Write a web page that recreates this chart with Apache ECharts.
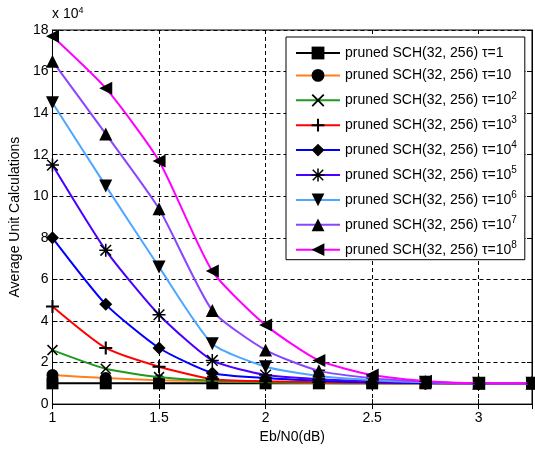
<!DOCTYPE html>
<html><head><meta charset="utf-8">
<script src="https://cdn.jsdelivr.net/npm/echarts@6/dist/echarts.min.js"></script>
<style>html,body{margin:0;padding:0;background:#fff}#c{width:535px;height:449px}</style>
</head><body><div id="c"></div>
<script>
// Eb/N0 (dB)
const ebn0 = [1, 1.25, 1.5, 1.75, 2, 2.25, 2.5, 2.75, 3, 3.25];
// Average unit calculations, in units of 10^4
const tau1   = [1.0, 1.0, 1.0, 1.0, 1.0, 1.0, 1.0, 1.0, 1.0, 1.0];
const tau1e1 = [1.4, 1.25, 1.15, 1.1, 1.05, 1.02, 1.0, 1.0, 1.0, 1.0];
const tau1e2 = [2.6, 1.7, 1.3, 1.12, 1.05, 1.02, 1.0, 1.0, 1.0, 1.0];
const tau1e3 = [4.7, 2.7, 1.8, 1.2, 1.1, 1.05, 1.02, 1.0, 1.0, 1.0];
const tau1e4 = [8.0, 4.8, 2.7, 1.5, 1.25, 1.12, 1.05, 1.02, 1.0, 1.0];
const tau1e5 = [11.5, 7.4, 4.3, 2.1, 1.4, 1.2, 1.1, 1.05, 1.0, 1.0];
const tau1e6 = [14.5, 10.5, 6.6, 2.9, 1.8, 1.35, 1.15, 1.05, 1.0, 1.0];
const tau1e7 = [16.5, 13.0, 9.4, 4.5, 2.6, 1.6, 1.25, 1.08, 1.0, 1.0];
const tau1e8 = [17.7, 15.2, 11.7, 6.4, 3.8, 2.1, 1.4, 1.1, 1.0, 1.0];
const seriesNames = [
  'pruned SCH(32, 256) τ=1',
  'pruned SCH(32, 256) τ=10',
  'pruned SCH(32, 256) τ=10^2',
  'pruned SCH(32, 256) τ=10^3',
  'pruned SCH(32, 256) τ=10^4',
  'pruned SCH(32, 256) τ=10^5',
  'pruned SCH(32, 256) τ=10^6',
  'pruned SCH(32, 256) τ=10^7',
  'pruned SCH(32, 256) τ=10^8'
];
const seriesData = [tau1, tau1e1, tau1e2, tau1e3, tau1e4, tau1e5, tau1e6, tau1e7, tau1e8];
const yTicks = [0, 2, 4, 6, 8, 10, 12, 14, 16, 18];
const xTicks = [1, 1.5, 2, 2.5, 3];

const colors = ['#000000', '#ff7f1e', '#1f9a1f', '#ff0000', '#0000ff', '#4b00ff', '#4da6ff', '#8a45ff', '#ff00ff'];
const P_X = 'path://M1,0L5,4L9,0L10,1L6,5L10,9L9,10L5,6L1,10L0,9L4,5L0,1Z';
const P_PLUS = 'path://M4.2,0H5.8V4.2H10V5.8H5.8V10H4.2V5.8H0V4.2H4.2Z';
const P_STAR = 'path://M4.4,0H5.6V10H4.4Z M0,4.4H10V5.6H0Z M1.3,0.5L5,4.2L8.7,0.5L9.5,1.3L5.8,5L9.5,8.7L8.7,9.5L5,5.8L1.3,9.5L0.5,8.7L4.2,5L0.5,1.3Z';
const symbols = ['rect', 'circle', P_X, P_PLUS, 'diamond', P_STAR, 'triangle', 'triangle', 'triangle'];
const rotates = [0, 0, 0, 0, 0, 0, 180, 0, 90];
const sizes = [12, 12, 11, 13, 13, 13, 13, 13, 13];

const chart = echarts.init(document.getElementById('c'));
const series = seriesNames.map((n, i) => ({
  name: n,
  type: 'line',
  data: ebn0.map((x, j) => [x, seriesData[i][j]]),
  symbol: symbols[i],
  symbolSize: sizes[i],
  symbolRotate: rotates[i],
  smooth: 0.2,
  itemStyle: {color: '#000'},
  lineStyle: {color: colors[i], width: 2},
  z: 2 + i,
  animation: false
}));

const font = 'Liberation Sans, Arial, sans-serif';
chart.setOption({
  animation: false,
  backgroundColor: '#fff',
  textStyle: {fontFamily: font},
  grid: {left: 52, right: 3, top: 30, bottom: 41, show: true, borderColor: '#000', borderWidth: 1, backgroundColor: 'transparent'},
  xAxis: [{
    type: 'value', min: 1, max: 3.25, interval: 0.5,
    name: 'Eb/N0(dB)', nameLocation: 'middle', nameGap: 22,
    nameTextStyle: {color: '#000', fontSize: 14, fontFamily: font},
    axisLine: {lineStyle: {color: '#000'}},
    axisTick: {inside: true, length: 5, lineStyle: {color: '#000'}},
    axisLabel: {color: '#000', fontSize: 14, fontFamily: font, margin: 7, showMaxLabel: false,
      formatter: v => xTicks.indexOf(v) >= 0 ? String(v) : ''},
    splitLine: {show: true, lineStyle: {color: '#000', type: [4, 3], width: 1}}
  }, {
    type: 'value', min: 1, max: 3.25, interval: 0.5, position: 'top',
    axisLine: {show: true, lineStyle: {color: '#000'}},
    axisTick: {inside: true, length: 5, lineStyle: {color: '#000'}},
    axisLabel: {show: false}, splitLine: {show: false}
  }],
  yAxis: [{
    type: 'value', min: 0, max: 18, interval: 2,
    name: 'Average Unit Calculations', nameLocation: 'middle', nameGap: 27,
    nameTextStyle: {color: '#000', fontSize: 14, fontFamily: font},
    axisLine: {show: true, lineStyle: {color: '#000'}},
    axisTick: {show: true, inside: true, length: 5, lineStyle: {color: '#000'}},
    axisLabel: {color: '#000', fontSize: 14, fontFamily: font, margin: 4,
      formatter: v => yTicks.indexOf(v) >= 0 ? String(v) : ''},
    splitLine: {show: true, lineStyle: {color: '#000', type: [4, 3], width: 1}}
  }, {
    type: 'value', min: 0, max: 18, interval: 2, position: 'right',
    axisLine: {show: true, lineStyle: {color: '#000'}},
    axisTick: {show: true, inside: true, length: 5, lineStyle: {color: '#000'}},
    axisLabel: {show: false}, splitLine: {show: false}
  }],
  legend: {
    orient: 'vertical', left: 286, top: 37,
    backgroundColor: '#fff', borderColor: '#000', borderWidth: 1,
    padding: [9, 8, 3, 9],
    itemWidth: 44, itemHeight: 16, itemGap: 8.4,
    data: seriesNames,
    formatter: n => {
      const k = n.indexOf('^');
      return k < 0 ? n : n.slice(0, k) + '{sup|' + n.slice(k + 1) + '}';
    },
    textStyle: {color: '#000', fontSize: 14, fontFamily: font, padding: [0, 0, 0, 0],
      rich: {sup: {fontSize: 10, fontFamily: font, color: '#000', verticalAlign: 'bottom', padding: [0, 0, 9, 0]}}}
  },
  graphic: [{
    type: 'text', left: 52, top: 6,
    style: {text: 'x 10{s|4}', fill: '#000', font: '14px ' + font,
      rich: {s: {fontSize: 9, fontFamily: font, fill: '#000', verticalAlign: 'bottom', padding: [0, 0, 8, 0]}}}
  }],
  series: series
});
</script></body></html>
